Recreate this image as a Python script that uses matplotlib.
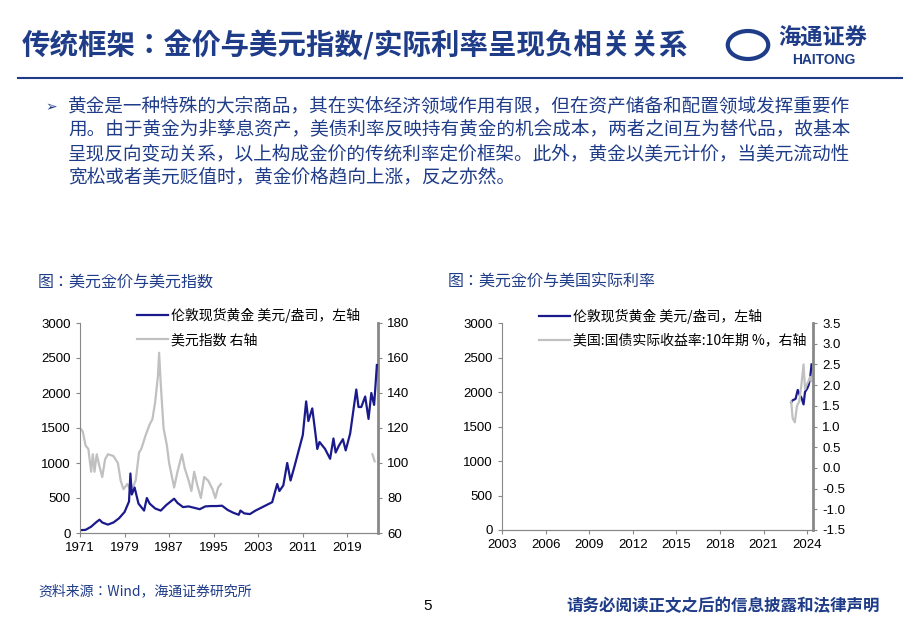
import matplotlib
matplotlib.use("Agg")
import matplotlib.pyplot as plt

CJK = "Noto Sans CJK JP"
plt.rcParams["font.family"] = ["Liberation Sans", CJK]

NAVY = "#1a1a8c"
GREY = "#c0c0c0"
BLUE = "#1f3c88"

gold_t = [1971, 1972, 1973, 1974, 1974.5, 1975, 1976, 1977, 1978, 1979, 1979.8, 1980.05, 1980.3, 1980.8,
          1981.5, 1982.5, 1983.0, 1983.5, 1984.5, 1985.5, 1986.5, 1987.9, 1988.5, 1989.5, 1990.5,
          1991.5, 1992.5, 1993.5, 1994.5, 1995.5, 1996.5, 1997.5, 1998.5, 1999.5, 1999.8, 2000.5,
          2001.5, 2002.5, 2003.5, 2004.5, 2005.5, 2006.4, 2006.8, 2007.5, 2008.2, 2008.8, 2009.5,
          2010.5, 2011.0, 2011.6, 2012.0, 2012.7, 2013.3, 2013.6, 2014.0, 2014.5, 2015.0, 2015.9,
          2016.5, 2016.9, 2017.5, 2018.2, 2018.7, 2019.5, 2020.6, 2021.0, 2021.5, 2022.2, 2022.8,
          2023.3, 2023.8, 2024.0, 2024.3]
gold_v = [40, 45, 90, 160, 190, 150, 120, 150, 210, 300, 450, 850, 550, 650,
          420, 320, 500, 420, 350, 320, 400, 490, 430, 370, 380,
          360, 340, 380, 385, 385, 390, 330, 290, 260, 320, 280,
          270, 320, 360, 400, 440, 700, 600, 680, 1000, 750, 950,
          1250, 1400, 1880, 1600, 1780, 1400, 1200, 1300, 1250, 1200, 1060,
          1350, 1150, 1250, 1340, 1180, 1420, 2050, 1800, 1800, 1950, 1630,
          2000, 1830, 2050, 2400]

dxy_t = [1971, 1971.5, 1972, 1972.5, 1973, 1973.3, 1973.6, 1974, 1974.5, 1975, 1975.5, 1976, 1977,
         1977.8, 1978.3, 1978.8, 1979.5, 1980, 1980.6, 1981, 1981.6, 1982, 1982.8, 1983.5, 1984,
         1984.5, 1985.0, 1985.2, 1985.5, 1986, 1986.6, 1987, 1987.9, 1988.5, 1989.3, 1989.8, 1990.5,
         1991.0, 1991.5, 1992.0, 1992.7, 1993.3, 1994, 1994.8, 1995.3, 1995.8, 1996.3]
dxy_v = [120, 118, 110, 108, 95, 105, 95, 105, 98, 92, 102, 105, 104,
         100, 90, 85, 88, 85, 87, 90, 106, 108, 116, 122, 125,
         135, 150, 163, 145, 120, 110, 100, 86, 95, 105, 97, 90,
         84, 95, 88, 80, 92, 90, 85, 80, 86, 88]
dxy2_t = [2023.5, 2023.9]
dxy2_v = [105, 101]

g2_t = [2022.9, 2023.0, 2023.2, 2023.35, 2023.5, 2023.6, 2023.75, 2023.85, 2024.0, 2024.1, 2024.2, 2024.3]
g2_v = [1850, 1880, 1900, 2030, 1950, 1920, 1820, 2000, 2050, 2100, 2200, 2400]
ry_t = [2022.9, 2023.0, 2023.15, 2023.3, 2023.45, 2023.6, 2023.75, 2023.85, 2023.95, 2024.1, 2024.2, 2024.3]
ry_v = [1.6, 1.2, 1.1, 1.5, 1.6, 2.0, 2.5, 1.9, 2.0, 2.1, 2.2, 2.1]

x1_ticks = [1971, 1979, 1987, 1995, 2003, 2011, 2019]
x2_ticks = [2003, 2006, 2009, 2012, 2015, 2018, 2021, 2024]

W, H = 920, 636
fig = plt.figure(figsize=(W / 100, H / 100), dpi=100)

def ft(x, y, s, **kw):
    fig.text(x / W, 1 - y / H, s, **kw)

# header
ft(22, 45, "传统框架：金价与美元指数/实际利率呈现负相关关系", fontsize=20.5, fontweight="bold",
   color=BLUE, family=CJK, va="center")
ft(778, 38, "海通证券", fontsize=16, color=BLUE, family=CJK, va="center", fontweight="bold")
ft(792, 60, "HAITONG", fontsize=10, color=BLUE, va="center", fontweight="bold")
fig.add_artist(plt.Circle((748 / W, 1 - 45 / H), 0.022, transform=fig.transFigure, fill=False,
                          ec=BLUE, lw=3))
fig.add_artist(plt.Line2D([0.02, 0.98], [1 - 78 / H, 1 - 78 / H], color=BLUE, lw=1.5,
                          transform=fig.transFigure))

body = ["黄金是一种特殊的大宗商品，其在实体经济领域作用有限，但在资产储备和配置领域发挥重要作",
        "用。由于黄金为非孳息资产，美债利率反映持有黄金的机会成本，两者之间互为替代品，故基本",
        "呈现反向变动关系，以上构成金价的传统利率定价框架。此外，黄金以美元计价，当美元流动性",
        "宽松或者美元贬值时，黄金价格趋向上涨，反之亦然。"]
ft(45, 107, "➢", fontsize=10, color=BLUE, va="center", family="DejaVu Sans")
for i, line in enumerate(body):
    ft(68, 107 + i * 23.5, line, fontsize=13.4, color=BLUE, family=CJK, va="center")

ft(38, 282, "图：美元金价与美元指数", fontsize=11.5, color=BLUE, family=CJK, va="center")
ft(448, 282, "图：美元金价与美国实际利率", fontsize=11.5, color=BLUE, family=CJK, va="center")
ft(38, 591, "资料来源：Wind，海通证券研究所", fontsize=10, color=BLUE, family=CJK, va="center")
ft(428, 606, "5", fontsize=11, color="black", va="center", ha="center")
ft(880, 606, "请务必阅读正文之后的信息披露和法律声明", fontsize=11.9, color=BLUE, family=CJK,
   va="center", ha="right", fontweight="bold", style="italic")

def axpos(l, t, r, b):
    return [l / W, 1 - b / H, (r - l) / W, (b - t) / H]

def style(ax):
    ax.spines["top"].set_visible(False)
    ax.tick_params(labelsize=9.5, length=3, color="#888888")
    for sp in ax.spines.values():
        sp.set_color("#888888")

legprop = {"family": CJK, "size": 10}

# chart 1
ax = fig.add_axes(axpos(80, 323, 378, 533))
ax.plot(gold_t, gold_v, color=NAVY, lw=1.6, label="伦敦现货黄金 美元/盎司，左轴")
ax.set_ylim(0, 3000)
ax.set_yticks(range(0, 3001, 500))
ax.set_xlim(1971, 2024.5)
ax.set_xticks(x1_ticks)
ax.spines["right"].set_visible(False)
style(ax)
axr = ax.twinx()
axr.plot(dxy_t, dxy_v, color=GREY, lw=1.6, label="美元指数 右轴")
axr.plot(dxy2_t, dxy2_v, color=GREY, lw=1.6)
axr.set_ylim(60, 180)
axr.set_yticks(range(60, 181, 20))
axr.spines["left"].set_visible(False)
axr.spines["right"].set_linewidth(2)
style(axr)
ax.patch.set_alpha(0)
ax.set_zorder(axr.get_zorder() + 1)
h1, l1 = ax.get_legend_handles_labels()
h2, l2 = axr.get_legend_handles_labels()
ax.legend(h1 + h2, l1 + l2, loc="upper left", bbox_to_anchor=(0.15, 1.13), frameon=False,
          prop=legprop, handlelength=2.2, labelspacing=0.7, handletextpad=0.2)

# chart 2
bx = fig.add_axes(axpos(502, 323, 813, 530))
bx.plot(g2_t, g2_v, color=NAVY, lw=1.6, label="伦敦现货黄金 美元/盎司，左轴")
bx.set_ylim(0, 3000)
bx.set_yticks(range(0, 3001, 500))
bx.set_xlim(2003, 2024.4)
bx.set_xticks(x2_ticks)
bx.spines["right"].set_visible(False)
style(bx)
bxr = bx.twinx()
bxr.plot(ry_t, ry_v, color=GREY, lw=1.6, label="美国:国债实际收益率:10年期 %，右轴")
bxr.set_ylim(-1.5, 3.5)
ry_ticks = [-1.5, -1.0, -0.5, 0.0, 0.5, 1.0, 1.5, 2.0, 2.5, 3.0, 3.5]
bxr.set_yticks(ry_ticks)
bxr.set_yticklabels([f"{v:.1f}" for v in ry_ticks])
bxr.spines["left"].set_visible(False)
bxr.spines["right"].set_linewidth(2)
style(bxr)
h1, l1 = bx.get_legend_handles_labels()
h2, l2 = bxr.get_legend_handles_labels()
bxr.legend(h1 + h2, l1 + l2, loc="upper left", bbox_to_anchor=(0.08, 1.13), frameon=False,
           prop=legprop, handlelength=2.2, labelspacing=0.7, handletextpad=0.2)

fig.savefig("out.png", dpi=100)
